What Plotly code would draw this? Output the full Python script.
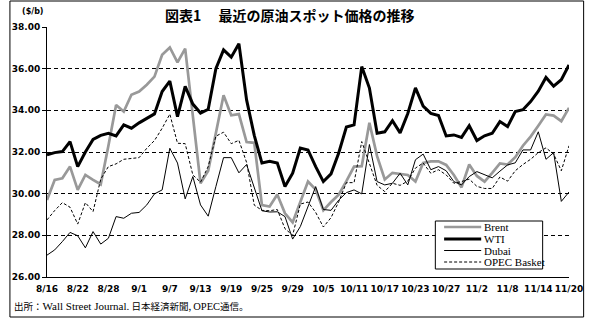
import plotly.graph_objects as go

# ---------------- data ----------------
dates = ["8/16", "8/17", "8/18", "8/21", "8/22", "8/23", "8/24", "8/25", "8/28", "8/29", "8/30", "8/31",
         "9/1", "9/4", "9/5", "9/6", "9/7", "9/8", "9/11", "9/12", "9/13", "9/14", "9/15", "9/18", "9/19",
         "9/20", "9/21", "9/22", "9/25", "9/26", "9/27", "9/28", "9/29",
         "10/2", "10/3", "10/4", "10/5", "10/6", "10/9", "10/10", "10/11", "10/12", "10/13", "10/16", "10/17",
         "10/18", "10/19", "10/20", "10/23", "10/24", "10/25", "10/26", "10/27", "10/30", "10/31",
         "11/1", "11/2", "11/3", "11/6", "11/7", "11/8", "11/9", "11/10", "11/13", "11/14", "11/15", "11/16",
         "11/17", "11/20"]

tick_labels = ["8/16", "8/22", "8/28", "9/1", "9/7", "9/13", "9/19", "9/25", "9/29", "10/5", "10/11",
               "10/17", "10/23", "10/27", "11/2", "11/8", "11/14", "11/20"]

brent = [29.70, 30.66, 30.74, 31.30, 30.18, 30.90, 30.66, 30.45, 32.30, 34.26, 33.94, 34.75,
         34.90, 35.23, 35.62, 36.67, 37.02, 36.30, 36.96, 33.70, 30.50, 31.10, 32.90, 34.72, 33.76,
         33.82, 32.48, 32.44, 29.45, 29.38, 29.96, 29.06, 28.62,
         29.65, 30.58, 30.20, 29.20, 29.60, 29.95, 30.60, 31.30, 31.32, 33.40, 31.80, 30.68,
         31.00, 30.95, 30.90, 30.58, 31.47, 31.55, 31.55, 31.38, 30.90, 30.30,
         31.40, 30.85, 30.58, 31.00, 31.45, 31.40, 31.75, 32.30, 32.74, 33.26, 33.80, 33.75,
         33.48, 34.12]

wti = [31.86, 31.97, 32.02, 32.50, 31.30, 32.00, 32.60, 32.80, 32.90, 32.77, 33.30, 33.14,
       33.40, 33.60, 33.83, 34.90, 35.40, 33.70, 35.15, 34.30, 33.87, 34.05, 36.00, 36.90, 36.55,
       37.20, 34.50, 32.80, 31.47, 31.55, 31.47, 30.34, 30.98,
       32.19, 32.10, 31.30, 30.58, 30.95, 31.95, 33.20, 33.30, 36.10, 35.07, 32.90, 32.97,
       33.50, 32.92, 33.85, 35.08, 34.20, 33.85, 33.75, 32.77, 32.82, 32.70,
       33.26, 32.55, 32.78, 32.90, 33.46, 33.22, 33.94, 34.03, 34.42, 34.92, 35.58, 35.16,
       35.47, 36.18]

dubai = [27.05, 27.30, 27.70, 28.14, 27.98, 27.40, 28.18, 27.58, 27.86, 28.90, 28.82, 29.06,
         29.10, 29.46, 29.99, 30.18, 32.18, 31.47, 29.75, 30.82, 29.46, 28.92, 30.34, 31.73, 31.73,
         31.00, 31.40, 30.30, 29.18, 29.12, 29.13, 28.90, 27.82,
         28.42, 29.34, 30.34, 29.24, 29.20, 29.69, 30.05, 30.18, 29.99, 32.36, 30.58, 30.42,
         30.50, 30.98, 30.42, 31.63, 31.90, 31.15, 31.30, 31.10, 30.58, 30.42,
         30.82, 31.06, 30.92, 30.76, 31.08, 31.38, 31.48, 32.10, 32.10, 32.97, 31.65, 31.97,
         29.63, 30.08]

opec = [28.74, 29.19, 29.57, 29.35, 28.54, 29.57, 29.14, 30.70, 31.30, 31.43, 31.65, 31.70,
        31.73, 32.18, 32.55, 33.14, 33.82, 32.42, 32.40, 30.90, 30.55, 31.30, 32.76, 32.95, 32.40,
        32.56, 31.50, 29.45, 29.20, 29.18, 29.24, 28.32, 28.00,
        29.50, 29.60, 29.10, 28.40, 28.85, 29.61, 30.53, 30.53, 32.50, 31.40, 30.40, 30.10,
        30.50, 30.40, 30.60, 31.23, 31.47, 30.98, 31.15, 30.90, 30.50, 30.58,
        30.70, 30.35, 30.25, 30.25, 30.80, 30.60, 31.10, 31.40, 31.65, 31.97, 32.20, 31.90,
        31.10, 32.30]

y_ticks = [26, 28, 30, 32, 34, 36, 38]
y_tick_text = ["26.00", "28.00", "30.00", "32.00", "34.00", "36.00", "38.00"]

series_names = ["Brent", "WTI", "Dubai", "OPEC Basket"]

# ---------------- layout geometry ----------------
W, H = 595, 323
ML, MR, MT, MB = 39, 21, 27, 46
PW, PH = W - ML - MR, H - MT - MB


def px_x(p):
    return (p - ML) / PW


def px_y(p):
    return (H - MB - p) / PH


GRAY = "#999999"
styles = {
    "Brent": dict(color=GRAY, width=2.7, dash="solid"),
    "WTI": dict(color="black", width=3, dash="solid"),
    "Dubai": dict(color="black", width=1, dash="solid"),
    "OPEC Basket": dict(color="black", width=1, dash="3px,2px"),
}
values = {"Brent": brent, "WTI": wti, "Dubai": dubai, "OPEC Basket": opec}

fig = go.Figure()
for name in series_names:
    fig.add_trace(go.Scatter(x=dates, y=values[name], mode="lines", name=name,
                             line=styles[name], showlegend=False))

TICKFONT = dict(family="DejaVu Sans", size=9, color="black", weight="bold")

fig.update_layout(
    width=W, height=H,
    margin=dict(l=ML, r=MR, t=MT, b=MB, pad=0),
    paper_bgcolor="white", plot_bgcolor="white",
    xaxis=dict(type="category", range=[0, len(dates) - 1], tickmode="array",
               tickvals=tick_labels, ticktext=tick_labels, showgrid=False,
               showline=True, linecolor="black", linewidth=1, ticks="outside",
               ticklen=3, tickcolor="rgba(0,0,0,0)",
               tickfont=TICKFONT, zeroline=False),
    yaxis=dict(range=[26, 38], tickmode="array", tickvals=y_ticks, ticktext=y_tick_text,
               showgrid=True, gridcolor="black", gridwidth=1, griddash="4px,3px",
               showline=True, linecolor="black", linewidth=1, ticks="outside",
               ticklen=4, tickcolor="black", tickfont=TICKFONT, zeroline=False),
)

footer = ("出所：<span style='font-family:Liberation Serif;font-size:11px'>Wall Street Journal.</span>"
          " 日本経済新聞, <span style='font-family:Liberation Serif;font-size:10.5px'>OPEC</span>通信。")

annotations = [
    dict(text="<b>図表1　 最近の原油スポット価格の推移</b>", x=px_x(288), y=px_y(15),
         xref="paper", yref="paper", xanchor="center", yanchor="middle", showarrow=False,
         font=dict(family="Noto Sans CJK JP", size=14, color="black")),
    dict(text="<b>($/b)</b>", x=px_x(25), y=px_y(12), xref="paper", yref="paper",
         xanchor="center", yanchor="middle", showarrow=False,
         font=dict(family="DejaVu Sans", size=8, color="black")),
    dict(text=footer, x=px_x(3), y=px_y(306),
         xref="paper", yref="paper", xanchor="left", yanchor="middle", showarrow=False,
         font=dict(family="Noto Sans CJK JP", size=9.5, color="black")),
]

shapes = [
    # outer frame
    dict(type="rect", xref="paper", yref="paper", x0=px_x(1), x1=px_x(589), y0=px_y(1), y1=px_y(317),
         line=dict(color="black", width=1), fillcolor="rgba(0,0,0,0)", layer="above"),
    # legend box
    dict(type="rect", xref="paper", yref="paper", x0=px_x(437), x1=px_x(547), y0=px_y(221), y1=px_y(269),
         line=dict(color="black", width=1), fillcolor="white", layer="above"),
]

leg_rows = [227, 239, 250.5, 262]
for name, row in zip(series_names, leg_rows):
    st = styles[name]
    shapes.append(dict(type="line", xref="paper", yref="paper", x0=px_x(446), x1=px_x(484),
                       y0=px_y(row), y1=px_y(row),
                       line=dict(color=st["color"], width=st["width"], dash=st["dash"]),
                       layer="above"))
    annotations.append(dict(text=name, x=px_x(485), y=px_y(row), xref="paper", yref="paper",
                            xanchor="left", yanchor="middle", showarrow=False,
                            font=dict(family="Liberation Serif", size=11, color="black")))

fig.update_layout(annotations=annotations, shapes=shapes)

fig.write_html("out.html")
